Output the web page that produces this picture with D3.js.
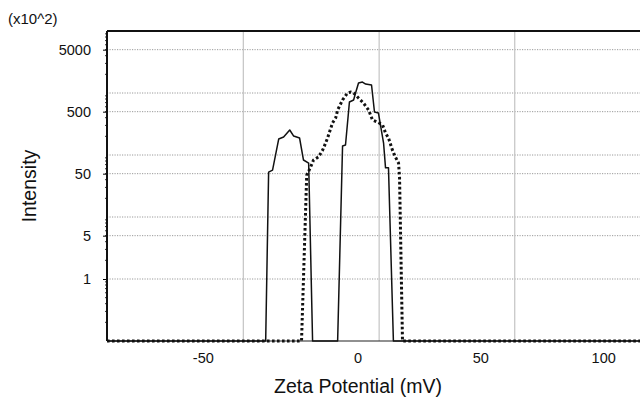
<!DOCTYPE html>
<html>
<head>
<meta charset="utf-8">
<script src="https://cdn.jsdelivr.net/npm/d3@7"></script>
<style>
body { margin: 0; background: #fff; }
text { font-family: "Liberation Sans", Arial, sans-serif; fill: #111; }
</style>
</head>
<body>
<div id="graphicContainer"></div>
<script>

// solid trace (two peaks) - zeta potential mV / intensity (x10^2)
var solidMv = [-102, -37.4, -36.2, -34.6, -32.1, -30.1, -27.6, -26.0, -23.6, -22.0, -19.9, -18.3,
	-8.1, -6.1, -4.9, -3.3, -1.6, -0.8, 0.4, 2.0, 3.3, 5.7, 6.9, 8.5, 10.6, 11.4, 12.6, 14.6, 115]
var solidInt = [0, 0, 53, 57, 181, 195, 253, 202, 188, 83, 74, 0,
	0, 140, 145, 716, 771, 1000, 1449, 1503, 1396, 1345, 494, 476, 156, 62, 62, 0, 0]

// dotted trace (single broad peak)
var dotMv = [-102, -22.8, -20.7, -19.1, -17.9, -15.9, -14.2, -13.0, -12.2, -10.2, -8.9, -8.1, -6.1, -4.1,
	-2.8, -1.6, 0.4, 2.4, 4.5, 6.1, 8.1, 10.2, 11.4, 12.6, 14.2, 15.4, 16.7, 17.1, 18.3, 115]
var dotInt = [0, 0, 47, 64, 83, 93, 120, 156, 188, 328, 395, 532, 771, 1000,
	1038, 1000, 830, 690, 532, 367, 341, 305, 226, 188, 120, 93, 74, 44, 0, 0]

var yTickVals = [1, 5, 50, 500, 5000]
var yGridVals = [1, 5, 10, 50, 100, 500, 1000, 5000]
var xGridVals = [-46.5, 8.8, 64]
var xTickAt = [-63, 0, 50, 100]
var xTickText = ["-50", "0", "50", "100"]

var margin = {top: 31, right: 0, bottom: 61, left: 107}
var width = 640 - margin.left - margin.right
var height = 402 - margin.top - margin.bottom

var svg = d3.select("#graphicContainer").append("svg")
	.attr("width", 640)
	.attr("height", 402)

var features = svg.append("g").attr("transform", "translate(" + margin.left + "," + margin.top + ")")

var x = d3.scaleLinear()
	.domain([-102, 115])
	.range([0, width])

var y = d3.scaleLog()
	.domain([0.1, 10000])
	.range([height, 0])

function yv(v) {
	return v > 0.1 ? y(v) : y(0.1)
}

// gridlines
features.selectAll(".hgrid")
	.data(yGridVals)
	.enter()
	.append("line")
	.attr("x1", 0)
	.attr("x2", width)
	.attr("y1", d => y(d))
	.attr("y2", d => y(d))
	.attr("stroke", "#9a9a9a")
	.attr("stroke-width", 1)
	.attr("stroke-dasharray", "1.2,1.3")

features.selectAll(".vgrid")
	.data(xGridVals)
	.enter()
	.append("line")
	.attr("x1", d => x(d))
	.attr("x2", d => x(d))
	.attr("y1", 0)
	.attr("y2", height)
	.attr("stroke", "#c4c4c4")
	.attr("stroke-width", 1.2)

// minor ticks on the log axis
var minor = []
for (var k = -1; k < 4; k++) {
	for (var m = 2; m < 10; m++) minor.push(m * Math.pow(10, k))
}
features.selectAll(".minor")
	.data(minor)
	.enter()
	.append("line")
	.attr("x1", -2)
	.attr("x2", 0)
	.attr("y1", d => y(d))
	.attr("y2", d => y(d))
	.attr("stroke", "#333")

var yAxis = d3.axisLeft(y)
	.tickValues(yTickVals)
	.tickFormat(d3.format("d"))
	.tickSize(4)
	.tickPadding(12)

var gy = features.append("g").attr("class", "y").call(yAxis)
gy.select(".domain").remove()
gy.selectAll("text").attr("font-size", 14.5)

var xAxis = d3.axisBottom(x)
	.tickValues(xTickAt)
	.tickFormat((d, i) => xTickText[i])
	.tickSize(0)
	.tickPadding(12)

var gx = features.append("g").attr("class", "x")
	.attr("transform", "translate(0," + height + ")")
	.call(xAxis)
gx.select(".domain").remove()
gx.selectAll("text").attr("font-size", 14.5)

// frame
features.append("line")
	.attr("x1", 0).attr("x2", width)
	.attr("y1", height).attr("y2", height)
	.attr("stroke", "#222").attr("stroke-width", 1.2)

features.append("line")
	.attr("x1", 0).attr("x2", width)
	.attr("y1", 0).attr("y2", 0)
	.attr("stroke", "#111").attr("stroke-width", 2)

features.append("line")
	.attr("x1", 0).attr("x2", 0)
	.attr("y1", 0).attr("y2", height)
	.attr("stroke", "#111").attr("stroke-width", 2)

// curves
var line = d3.line()
	.x(d => x(d[0]))
	.y(d => yv(d[1]))

features.append("path")
	.datum(dotMv.map((d, i) => [d, dotInt[i]]))
	.attr("d", line)
	.attr("fill", "none")
	.attr("stroke", "#111")
	.attr("stroke-width", 3)
	.attr("stroke-dasharray", "2.6,2.4")

features.append("path")
	.datum(solidMv.map((d, i) => [d, solidInt[i]]))
	.attr("d", line)
	.attr("fill", "none")
	.attr("stroke", "#111")
	.attr("stroke-width", 1.5)
	.attr("stroke-linejoin", "round")

// labels
svg.append("text")
	.attr("x", 8)
	.attr("y", 24)
	.attr("font-size", 15)
	.text("(x10^2)")

svg.append("text")
	.attr("transform", "translate(36,186) rotate(-90)")
	.attr("text-anchor", "middle")
	.attr("font-size", 19.5)
	.text("Intensity")

svg.append("text")
	.attr("x", 358)
	.attr("y", 393)
	.attr("text-anchor", "middle")
	.attr("font-size", 19.5)
	.text("Zeta Potential (mV)")

</script>
</body>
</html>
